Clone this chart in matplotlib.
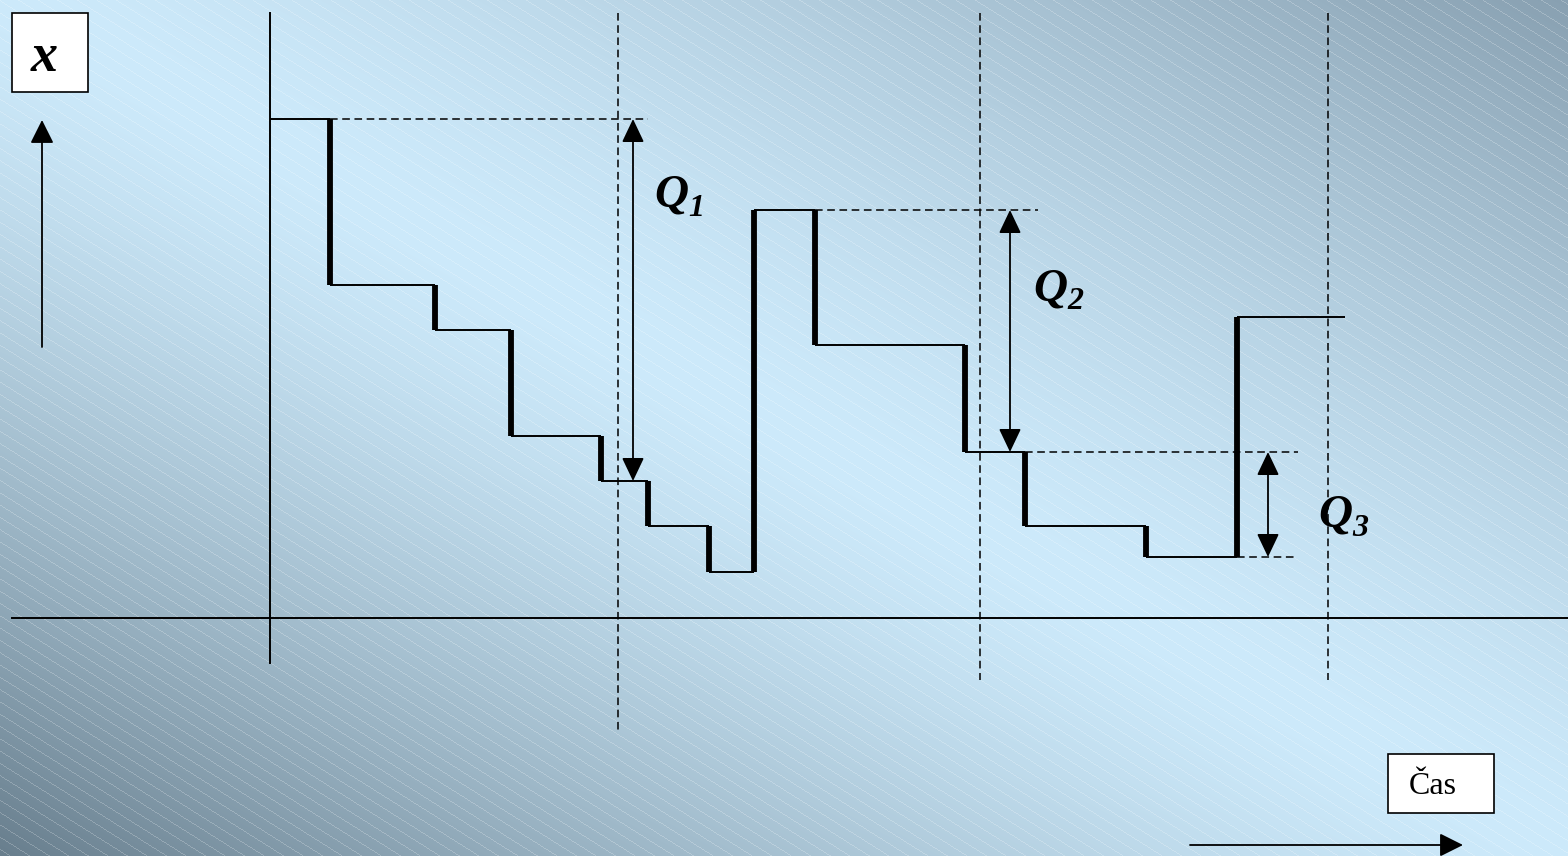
import numpy as np
import matplotlib
matplotlib.use("Agg")
import matplotlib.pyplot as plt
from matplotlib.patches import Rectangle

# stav zásoby x (výška nad osou času) a okamžiky změn
t_edges = [270, 330, 435, 511, 601, 648, 709, 754, 815, 965, 1025, 1146, 1237, 1345]
levels = [499, 333, 288, 182, 137, 92, 46, 408, 273, 166, 92, 61, 301]

# okamžiky kontroly (revize)
review_t = [618, 980, 1328]

# objednávková množství Q: (poloha šipky, horní a dolní úroveň)
q_names = ["1", "2", "3"]
q_x = [633, 1010, 1268]
q_top = [499, 408, 166]
q_bottom = [137, 166, 61]

# vodorovné čárkované pomocné čáry: (úroveň, od, do)
guide_level = [499, 408, 166, 61]
guide_from = [330, 815, 1025, 1237]
guide_to = [648, 1038, 1298, 1298]

W, H = 1568, 856
Y0 = 618  # poloha osy času v pixelech od horního okraje

fig = plt.figure(figsize=(W / 100, H / 100), dpi=100)
ax = fig.add_axes([0, 0, 1, 1])
ax.set_xlim(0, W)
ax.set_ylim(Y0 - H, Y0)
ax.axis("off")

# pozadí - diagonální přechod s jemným šrafováním
yy, xx = np.mgrid[0:H, 0:W]
s = xx / W - yy / H
light = np.array([205, 234, 251]) / 255
dark_bl = np.array([104, 126, 141]) / 255
dark_tr = np.array([136, 160, 177]) / 255
w = (np.clip(np.abs(s), 0, 1) ** 1.4)[..., None]
img = np.where(s[..., None] < 0, light + (dark_bl - light) * w, light + (dark_tr - light) * w)
hatch = ((yy - 0.63 * xx) % 12.3) < 1.0
img[hatch] = img[hatch] * 0.78 + 0.22
ax.imshow(img, extent=(0, W, Y0 - H, Y0), origin="upper", interpolation="nearest",
          aspect="auto", zorder=0)

# osy
ax.plot([270, 270], [Y0 - 13, Y0 - 663], color="k", lw=1.4, zorder=2)
ax.plot([12, W], [0, 0], color="k", lw=1.4, zorder=2)

# revize
for t in review_t:
    bottom = Y0 - 733 if t == review_t[0] else Y0 - 680
    ax.plot([t, t], [Y0 - 13, bottom], color="k", lw=1.1, ls=(0, (5, 3)), zorder=2)

# pomocné čáry
for lv, a, b in zip(guide_level, guide_from, guide_to):
    ax.plot([a, b], [lv, lv], color="k", lw=1.1, ls=(0, (5, 3)), zorder=2)

# průběh zásoby - vodorovné tenké, svislé skoky tlusté
ax.hlines(levels, t_edges[:-1], t_edges[1:], color="k", lw=1.4, zorder=3)
ax.vlines(t_edges[1:-1], levels[:-1], levels[1:], color="k", lw=4.2, zorder=3)

# šipky Q
arrow2 = dict(arrowstyle="<|-|>,head_length=0.8,head_width=0.38", color="k", lw=1.3,
              mutation_scale=18, shrinkA=0, shrinkB=0)
for x, a, b in zip(q_x, q_top, q_bottom):
    ax.annotate("", xy=(x, a), xytext=(x, b), arrowprops=arrow2, zorder=4)

q_pos = [(654, Y0 - 207), (1033, Y0 - 300), (1318, Y0 - 527)]
for name, (qx, qy) in zip(q_names, q_pos):
    ax.text(qx, qy, "Q", fontsize=34, family="Liberation Serif", weight="bold",
            style="italic", ha="left", va="baseline", zorder=5)
    ax.text(qx + 34, qy - 9, name, fontsize=23, family="Liberation Serif", weight="bold",
            style="italic", ha="left", va="baseline", zorder=5)

# popisky os
arrow1 = dict(arrowstyle="-|>,head_length=0.8,head_width=0.4", color="k", lw=1.3,
              mutation_scale=18, shrinkA=0, shrinkB=0)
ax.annotate("", xy=(42, Y0 - 120), xytext=(42, Y0 - 347), arrowprops=arrow1, zorder=4)
ax.annotate("", xy=(1463, Y0 - 845), xytext=(1190, Y0 - 845), arrowprops=arrow1, zorder=4)

ax.add_patch(Rectangle((12, Y0 - 92), 76, 79, facecolor="white", edgecolor="k", lw=1.2, zorder=4))
ax.text(44, Y0 - 58, "x", fontsize=39, family="Liberation Serif", weight="bold",
        style="italic", ha="center", va="center", zorder=5)

ax.add_patch(Rectangle((1388, Y0 - 813), 106, 59, facecolor="white", edgecolor="k", lw=1.2, zorder=4))
ax.text(1433, Y0 - 786, "Čas", fontsize=23, family="Liberation Serif",
        ha="center", va="center", zorder=5)

fig.savefig("out.png", dpi=100)
